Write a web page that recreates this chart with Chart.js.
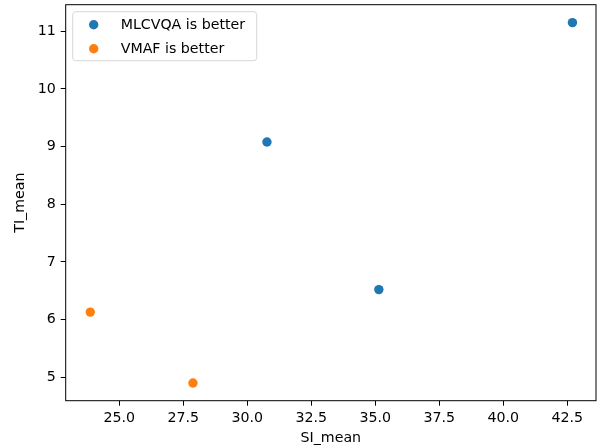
<!DOCTYPE html>
<html>
<head>
<meta charset="utf-8">
<script src="https://cdn.jsdelivr.net/npm/chart.js@4.4.0/dist/chart.umd.min.js"></script>
<style>
html,body{margin:0;padding:0;background:#fff;}
#wrap{width:602px;height:448px;position:relative;}
</style>
</head>
<body>
<div id="wrap"><canvas id="c" width="602" height="448"></canvas></div>
<script>
// Data
const seriesNames = ["MLCVQA is better", "VMAF is better"];
const mlcvqaSI = [30.77, 35.14, 42.70];
const mlcvqaTI = [9.08, 6.52, 11.15];
const vmafSI = [23.87, 27.88];
const vmafTI = [6.13, 4.90];
const xTickValues = [25.0, 27.5, 30.0, 32.5, 35.0, 37.5, 40.0, 42.5];
const yTickValues = [5, 6, 7, 8, 9, 10, 11];
const xAxisLabel = "SI_mean";
const yAxisLabel = "TI_mean";
const colors = ["#1f77b4", "#ff7f0e"];

const FONT = "DejaVu Sans";
const FS = 14.2;
const PR = 4.7;

function toPoints(xs, ys){ return xs.map((x,i)=>({x:x, y:ys[i]})); }

const framePlugin = {
  id: 'frame',
  afterDraw(chart){
    const {ctx, chartArea:a} = chart;
    ctx.save();
    ctx.strokeStyle = '#000';
    ctx.lineWidth = 1;
    ctx.strokeRect(a.left, a.top, a.right - a.left, a.bottom - a.top);
    // legend
    const bx = a.left + 7, by = a.top + 7, bw = 184, bh = 49, r = 3;
    ctx.beginPath();
    ctx.moveTo(bx + r, by);
    ctx.arcTo(bx + bw, by, bx + bw, by + bh, r);
    ctx.arcTo(bx + bw, by + bh, bx, by + bh, r);
    ctx.arcTo(bx, by + bh, bx, by, r);
    ctx.arcTo(bx, by, bx + bw, by, r);
    ctx.closePath();
    ctx.fillStyle = 'rgba(255,255,255,0.8)';
    ctx.fill();
    ctx.strokeStyle = '#d6d6d6';
    ctx.lineWidth = 1;
    ctx.stroke();
    ctx.font = FS + 'px "' + FONT + '"';
    ctx.textBaseline = 'middle';
    ctx.textAlign = 'left';
    chart.data.datasets.forEach((ds, i) => {
      const yy = by + 13 + i * 24;
      ctx.beginPath();
      ctx.arc(bx + 21, yy, PR, 0, Math.PI * 2);
      ctx.fillStyle = ds.backgroundColor;
      ctx.fill();
      ctx.fillStyle = '#000';
      ctx.fillText(ds.label, bx + 48, yy + 1);
    });
    ctx.restore();
  }
};

new Chart(document.getElementById('c'), {
  type: 'scatter',
  data: {
    datasets: [
      { label: seriesNames[0], data: toPoints(mlcvqaSI, mlcvqaTI), backgroundColor: colors[0], borderWidth: 0, pointRadius: PR, pointHoverRadius: PR },
      { label: seriesNames[1], data: toPoints(vmafSI, vmafTI), backgroundColor: colors[1], borderWidth: 0, pointRadius: PR, pointHoverRadius: PR }
    ]
  },
  options: {
    responsive: false,
    animation: false,
    devicePixelRatio: 1,
    layout: { padding: { left: 0, right: 6, top: 4.5, bottom: 0 } },
    plugins: { legend: { display: false }, tooltip: { enabled: false } },
    scales: {
      x: {
        type: 'linear',
        min: 22.91, max: 43.62,
        afterBuildTicks(s){ s.ticks = xTickValues.map(v => ({value: v})); },
        afterFit(s){ s.height = 47.3; s.paddingLeft = 0; s.paddingRight = 0; },
        ticks: { color: '#000', font: { family: FONT, size: FS }, padding: 4, maxRotation: 0, autoSkip: false,
                 callback: v => Number(v).toFixed(1) },
        grid: { display: true, drawOnChartArea: false, drawTicks: true, tickLength: 5, color: '#000', lineWidth: 1 },
        border: { display: false },
        title: { display: true, text: xAxisLabel, color: '#000', font: { family: FONT, size: FS }, padding: { top: 4, bottom: 1 } }
      },
      y: {
        type: 'linear',
        min: 4.594, max: 11.46,
        afterBuildTicks(s){ s.ticks = yTickValues.map(v => ({value: v})); },
        afterFit(s){ s.width = 65.7; s.paddingTop = 0; s.paddingBottom = 0; },
        ticks: { color: '#000', font: { family: FONT, size: FS }, padding: 5, autoSkip: false,
                 callback: v => String(v) },
        grid: { display: true, drawOnChartArea: false, drawTicks: true, tickLength: 5, color: '#000', lineWidth: 1 },
        border: { display: false },
        title: { display: true, text: yAxisLabel, color: '#000', font: { family: FONT, size: FS }, padding: { top: 12, bottom: 4 } }
      }
    }
  },
  plugins: [framePlugin]
});
</script>
</body>
</html>
